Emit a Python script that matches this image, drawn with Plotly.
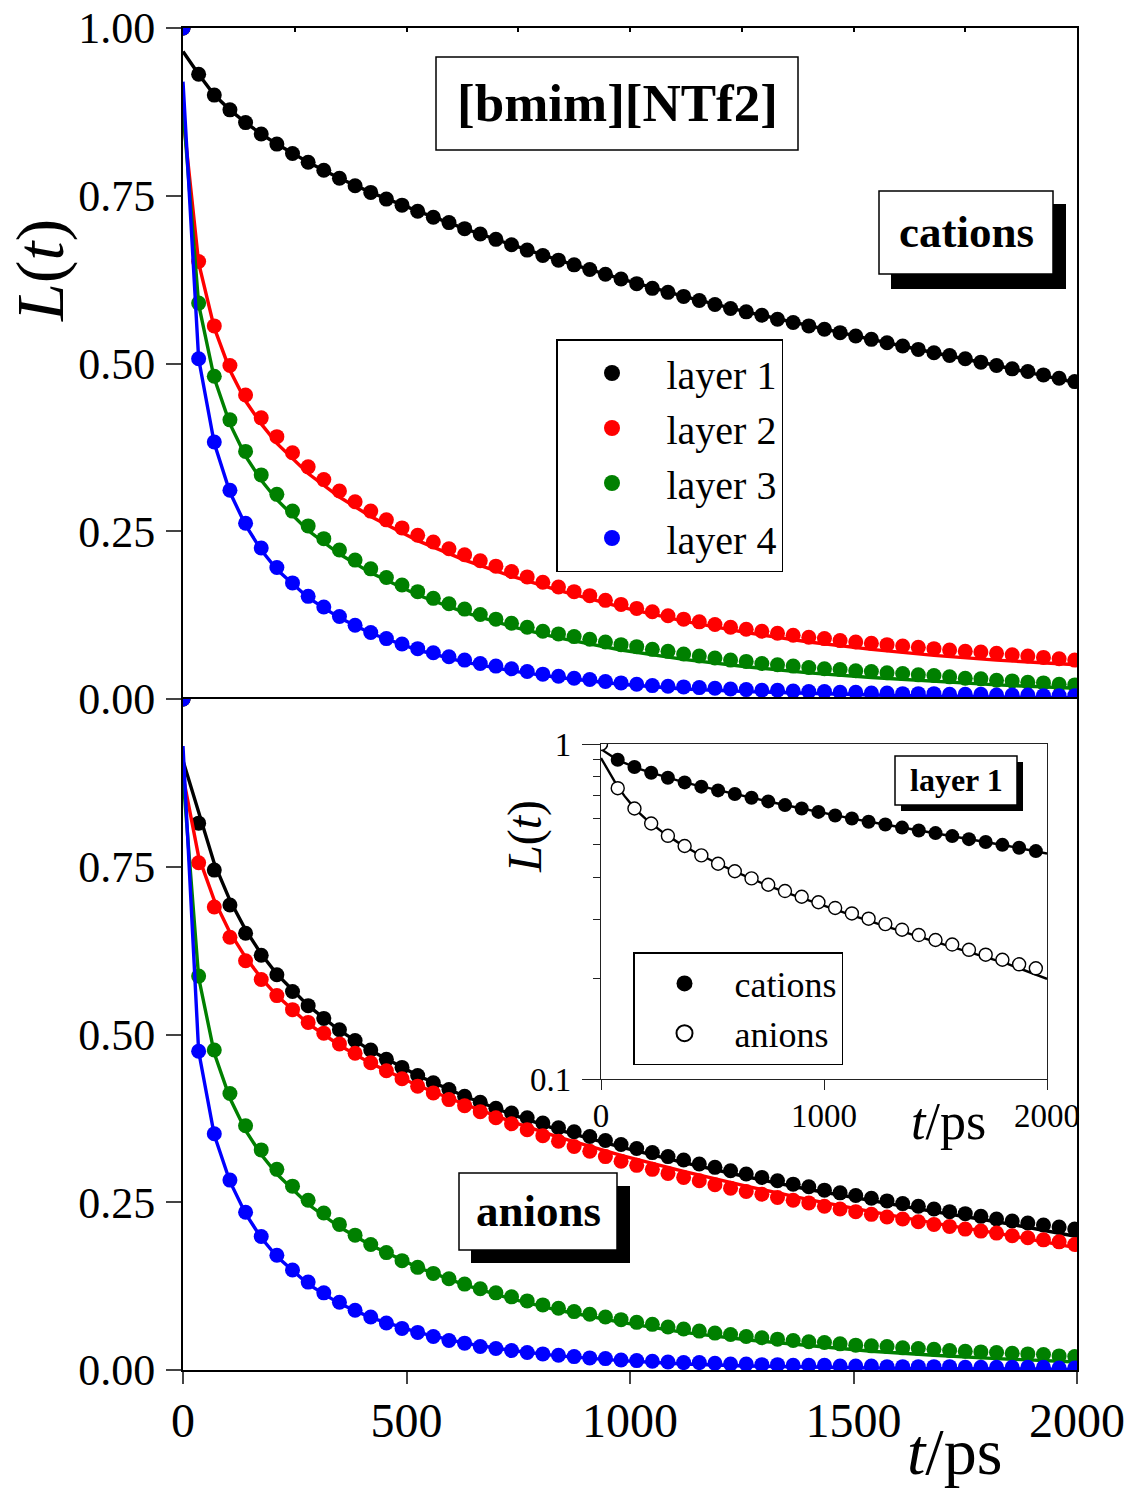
import plotly.graph_objects as go

# ---------------- data ----------------
t_main = [0, 35, 70, 105, 140, 175, 210, 245, 280, 315, 350, 385, 420, 455, 490, 525, 560, 595, 630, 665,
          700, 735, 770, 805, 840, 875, 910, 945, 980, 1015, 1050, 1085, 1120, 1155, 1190, 1225, 1260, 1295,
          1330, 1365, 1400, 1435, 1470, 1505, 1540, 1575, 1610, 1645, 1680, 1715, 1750, 1785, 1820, 1855,
          1890, 1925, 1960, 1995]

# cations, layers 1-4 (top panel)
cat_l1 = [1.000, 0.931, 0.900, 0.878, 0.859, 0.842, 0.827, 0.813, 0.800, 0.788, 0.776, 0.765, 0.755, 0.745,
          0.736, 0.727, 0.718, 0.710, 0.701, 0.693, 0.685, 0.677, 0.669, 0.661, 0.654, 0.647, 0.640, 0.633,
          0.626, 0.619, 0.612, 0.606, 0.600, 0.594, 0.588, 0.582, 0.577, 0.572, 0.566, 0.561, 0.556, 0.551,
          0.546, 0.541, 0.536, 0.531, 0.526, 0.521, 0.516, 0.512, 0.507, 0.502, 0.497, 0.492, 0.488, 0.483,
          0.478, 0.473]
cat_l2 = [1.000, 0.652, 0.556, 0.497, 0.453, 0.419, 0.391, 0.367, 0.346, 0.327, 0.310, 0.294, 0.280, 0.267,
          0.255, 0.244, 0.234, 0.224, 0.215, 0.206, 0.198, 0.190, 0.182, 0.174, 0.167, 0.160, 0.154, 0.147,
          0.141, 0.135, 0.130, 0.124, 0.119, 0.115, 0.111, 0.107, 0.104, 0.101, 0.098, 0.095, 0.092, 0.090,
          0.087, 0.085, 0.083, 0.081, 0.079, 0.077, 0.075, 0.073, 0.071, 0.070, 0.068, 0.066, 0.064, 0.062,
          0.060, 0.058]
cat_l3 = [1.000, 0.590, 0.481, 0.416, 0.369, 0.334, 0.305, 0.280, 0.258, 0.239, 0.222, 0.207, 0.194, 0.181,
          0.170, 0.160, 0.150, 0.142, 0.134, 0.126, 0.119, 0.113, 0.107, 0.101, 0.097, 0.093, 0.089, 0.085,
          0.081, 0.078, 0.074, 0.071, 0.067, 0.064, 0.061, 0.058, 0.056, 0.053, 0.051, 0.049, 0.047, 0.045,
          0.044, 0.042, 0.041, 0.039, 0.038, 0.036, 0.035, 0.033, 0.031, 0.030, 0.028, 0.027, 0.025, 0.024,
          0.022, 0.021]
cat_l4 = [1.000, 0.507, 0.383, 0.311, 0.262, 0.225, 0.196, 0.173, 0.153, 0.137, 0.123, 0.110, 0.099, 0.090,
          0.082, 0.075, 0.069, 0.063, 0.058, 0.053, 0.049, 0.045, 0.041, 0.037, 0.034, 0.031, 0.029, 0.026,
          0.024, 0.022, 0.020, 0.019, 0.018, 0.017, 0.016, 0.015, 0.014, 0.013, 0.013, 0.012, 0.011, 0.011,
          0.010, 0.010, 0.009, 0.009, 0.008, 0.008, 0.008, 0.007, 0.007, 0.007, 0.006, 0.006, 0.006, 0.005,
          0.005, 0.005]

# anions, layers 1-4 (bottom panel)
an_l1 = [1.000, 0.815, 0.745, 0.693, 0.651, 0.618, 0.589, 0.564, 0.543, 0.524, 0.507, 0.491, 0.477, 0.463,
         0.451, 0.439, 0.428, 0.418, 0.408, 0.399, 0.390, 0.383, 0.376, 0.368, 0.361, 0.355, 0.348, 0.342,
         0.336, 0.330, 0.324, 0.318, 0.313, 0.307, 0.302, 0.297, 0.292, 0.287, 0.282, 0.277, 0.273, 0.268,
         0.264, 0.260, 0.256, 0.252, 0.248, 0.244, 0.240, 0.236, 0.233, 0.229, 0.225, 0.222, 0.219, 0.216,
         0.213, 0.210]
an_l2 = [1.000, 0.756, 0.690, 0.645, 0.610, 0.582, 0.558, 0.537, 0.518, 0.502, 0.486, 0.472, 0.458, 0.446,
         0.434, 0.423, 0.413, 0.403, 0.394, 0.385, 0.376, 0.367, 0.358, 0.349, 0.341, 0.333, 0.326, 0.318,
         0.311, 0.305, 0.299, 0.293, 0.287, 0.282, 0.276, 0.271, 0.266, 0.262, 0.257, 0.253, 0.249, 0.244,
         0.240, 0.236, 0.232, 0.228, 0.225, 0.221, 0.217, 0.214, 0.210, 0.207, 0.204, 0.200, 0.197, 0.194,
         0.191, 0.187]
an_l3 = [1.000, 0.587, 0.477, 0.412, 0.364, 0.328, 0.299, 0.274, 0.253, 0.234, 0.217, 0.201, 0.187, 0.175,
         0.163, 0.153, 0.144, 0.136, 0.128, 0.121, 0.115, 0.109, 0.103, 0.097, 0.092, 0.087, 0.083, 0.079,
         0.075, 0.071, 0.068, 0.064, 0.061, 0.058, 0.055, 0.053, 0.050, 0.048, 0.046, 0.044, 0.042, 0.041,
         0.039, 0.037, 0.036, 0.035, 0.033, 0.032, 0.031, 0.029, 0.028, 0.027, 0.026, 0.025, 0.024, 0.023,
         0.021, 0.020]
an_l4 = [1.000, 0.475, 0.352, 0.283, 0.235, 0.199, 0.171, 0.149, 0.131, 0.115, 0.101, 0.089, 0.079, 0.070,
         0.062, 0.056, 0.050, 0.044, 0.040, 0.035, 0.032, 0.029, 0.026, 0.024, 0.022, 0.020, 0.018, 0.017,
         0.015, 0.014, 0.013, 0.012, 0.011, 0.011, 0.010, 0.009, 0.009, 0.008, 0.008, 0.007, 0.007, 0.007,
         0.006, 0.006, 0.006, 0.005, 0.005, 0.005, 0.005, 0.005, 0.004, 0.004, 0.004, 0.004, 0.004, 0.004,
         0.003, 0.003]

# fitted curves
t_fit = [0, 35, 70, 105, 140, 175, 210, 280, 350, 420, 525, 630, 735, 840, 980, 1120, 1260, 1400, 1540,
         1680, 1820, 2000]
fit_cat_l1 = [0.965, 0.931, 0.900, 0.878, 0.859, 0.842, 0.827, 0.800, 0.776, 0.755, 0.727, 0.701, 0.677,
              0.654, 0.626, 0.600, 0.577, 0.556, 0.536, 0.516, 0.497, 0.471]
fit_cat_l2 = [0.870, 0.650, 0.553, 0.490, 0.444, 0.410, 0.381, 0.336, 0.301, 0.272, 0.236, 0.207, 0.183,
              0.162, 0.137, 0.116, 0.099, 0.085, 0.074, 0.065, 0.058, 0.051]
fit_cat_l3 = [0.880, 0.588, 0.478, 0.410, 0.362, 0.326, 0.297, 0.251, 0.216, 0.188, 0.155, 0.129, 0.108,
              0.091, 0.073, 0.059, 0.048, 0.039, 0.032, 0.026, 0.021, 0.016]
fit_cat_l4 = [0.920, 0.507, 0.381, 0.308, 0.259, 0.222, 0.193, 0.151, 0.121, 0.098, 0.073, 0.055, 0.042,
              0.032, 0.022, 0.015, 0.011, 0.008, 0.006, 0.004, 0.003, 0.002]
fit_an_l1 = [0.908, 0.830, 0.755, 0.700, 0.656, 0.620, 0.590, 0.543, 0.506, 0.476, 0.439, 0.408, 0.381,
             0.358, 0.332, 0.309, 0.288, 0.269, 0.252, 0.236, 0.221, 0.199]
fit_an_l2 = [0.885, 0.765, 0.700, 0.652, 0.615, 0.584, 0.558, 0.516, 0.484, 0.457, 0.424, 0.396, 0.370,
             0.347, 0.320, 0.296, 0.274, 0.254, 0.236, 0.219, 0.204, 0.182]
fit_an_l3 = [0.885, 0.585, 0.472, 0.405, 0.357, 0.321, 0.292, 0.247, 0.213, 0.186, 0.153, 0.127, 0.106,
             0.089, 0.071, 0.056, 0.045, 0.036, 0.028, 0.022, 0.017, 0.012]
fit_an_l4 = [0.930, 0.475, 0.350, 0.281, 0.233, 0.197, 0.169, 0.128, 0.099, 0.078, 0.056, 0.040, 0.029,
             0.021, 0.014, 0.009, 0.006, 0.004, 0.003, 0.002, 0.0015, 0.001]

# inset (layer 1, log scale)
t_inset = [0, 75, 150, 225, 300, 375, 450, 525, 600, 675, 750, 825, 900, 975, 1050, 1125, 1200, 1275, 1350,
           1425, 1500, 1575, 1650, 1725, 1800, 1875, 1950]
inset_cat = [1.000, 0.897, 0.854, 0.821, 0.793, 0.768, 0.746, 0.727, 0.709, 0.691, 0.674, 0.657, 0.642,
             0.627, 0.612, 0.599, 0.586, 0.575, 0.563, 0.552, 0.542, 0.531, 0.520, 0.510, 0.500, 0.490, 0.479]
inset_an = [1.000, 0.738, 0.642, 0.579, 0.532, 0.496, 0.465, 0.439, 0.417, 0.397, 0.380, 0.364, 0.350,
            0.337, 0.324, 0.312, 0.301, 0.290, 0.279, 0.269, 0.260, 0.252, 0.243, 0.235, 0.227, 0.220, 0.214]

layer_names = ["layer 1", "layer 2", "layer 3", "layer 4"]
colors = ["#000000", "#ff0000", "#008000", "#0000ff"]
y_ticks_top = [0, 0.25, 0.5, 0.75, 1.0]
y_ticks_bottom = [0, 0.25, 0.5, 0.75]
x_ticks = [0, 500, 1000, 1500, 2000]
x_top_minor = [250, 500, 750, 1000, 1250, 1500, 1750]
inset_x_minor = [500, 1000, 1500]
inset_y_minor = [0.2, 0.3, 0.4, 0.5, 0.6, 0.7, 0.8, 0.9]

# ---------------- figure ----------------
W, H = 1132, 1488
FONT = "Liberation Serif, Times New Roman, serif"


def px(x):
    return x / W


def py(y):
    return 1 - y / H


fig = go.Figure()

cat_data = [cat_l1, cat_l2, cat_l3, cat_l4]
cat_fit = [fit_cat_l1, fit_cat_l2, fit_cat_l3, fit_cat_l4]
an_data = [an_l1, an_l2, an_l3, an_l4]
an_fit = [fit_an_l1, fit_an_l2, fit_an_l3, fit_an_l4]

for i in range(4):
    fig.add_trace(go.Scatter(x=t_fit, y=cat_fit[i], mode="lines", showlegend=False,
                             line=dict(color=colors[i], width=3.4), xaxis="x", yaxis="y"))
    fig.add_trace(go.Scatter(x=t_main, y=cat_data[i], mode="markers", showlegend=False,
                             marker=dict(color=colors[i], size=15), xaxis="x", yaxis="y"))
for i in range(4):
    fig.add_trace(go.Scatter(x=t_fit, y=an_fit[i], mode="lines", showlegend=False,
                             line=dict(color=colors[i], width=3.4), xaxis="x2", yaxis="y2"))
    fig.add_trace(go.Scatter(x=t_main, y=an_data[i], mode="markers", showlegend=False,
                             marker=dict(color=colors[i], size=15), xaxis="x2", yaxis="y2"))
# legend entries for the main legend
for i in range(4):
    fig.add_trace(go.Scatter(x=[None], y=[None], mode="markers", name=layer_names[i],
                             marker=dict(color=colors[i], size=17), xaxis="x", yaxis="y",
                             legend="legend"))

# inset
fig.add_trace(go.Scatter(x=t_fit, y=fit_cat_l1, mode="lines", showlegend=False,
                         line=dict(color="black", width=2.4), xaxis="x3", yaxis="y3"))
fig.add_trace(go.Scatter(x=t_fit, y=fit_an_l1, mode="lines", showlegend=False,
                         line=dict(color="black", width=2.4), xaxis="x3", yaxis="y3"))
fig.add_trace(go.Scatter(x=t_inset, y=inset_cat, mode="markers", showlegend=False,
                         marker=dict(color="black", size=14), xaxis="x3", yaxis="y3"))
fig.add_trace(go.Scatter(x=t_inset, y=inset_an, mode="markers", showlegend=False,
                         marker=dict(color="white", size=13, line=dict(color="black", width=1.4)),
                         xaxis="x3", yaxis="y3"))
fig.add_trace(go.Scatter(x=[None], y=[None], mode="markers", name="cations",
                         marker=dict(color="black", size=18), xaxis="x3", yaxis="y3", legend="legend2"))
fig.add_trace(go.Scatter(x=[None], y=[None], mode="markers", name="anions",
                         marker=dict(color="white", size=18, line=dict(color="black", width=2)),
                         xaxis="x3", yaxis="y3", legend="legend2"))

axis_common = dict(showline=True, mirror=True, linecolor="black", linewidth=2, showgrid=False,
                   zeroline=False, automargin=False)
tickfont_y = dict(family=FONT, size=44, color="black")
tickfont_x = dict(family=FONT, size=48, color="black")
xdom = [px(183), px(1077)]

fig.update_layout(
    width=W, height=H,
    margin=dict(l=0, r=0, t=0, b=0, pad=0),
    paper_bgcolor="white", plot_bgcolor="white",
    font=dict(family=FONT, color="black"),
    showlegend=True,
    xaxis=dict(domain=xdom, anchor="y", range=[0, 2000], showticklabels=False, side="top",
               tickvals=x_top_minor, ticks="inside", ticklen=4, tickwidth=1.5, tickcolor="black",
               showline=True, mirror=False, linecolor="black", linewidth=2, showgrid=False,
               zeroline=False, automargin=False),
    yaxis=dict(domain=[py(699), py(28)], anchor="x", range=[0, 1], tickvals=y_ticks_top,
               ticktext=["%.2f" % v for v in y_ticks_top], ticks="outside", ticklen=15, tickwidth=2,
               tickfont=tickfont_y, ticklabelstandoff=2, **axis_common),
    xaxis2=dict(domain=xdom, anchor="y2", range=[0, 2000], tickvals=x_ticks,
                ticktext=[str(v) for v in x_ticks], ticks="outside", ticklen=12, tickwidth=2,
                tickfont=tickfont_x, ticklabelstandoff=-5, **axis_common),
    yaxis2=dict(domain=[py(1370), py(699)], anchor="x2", range=[0, 1], tickvals=y_ticks_bottom,
                ticktext=["%.2f" % v for v in y_ticks_bottom], ticks="outside", ticklen=15, tickwidth=2,
                tickfont=tickfont_y, ticklabelstandoff=2, **axis_common),
    xaxis3=dict(domain=[px(601), px(1047)], anchor="y3", range=[0, 2000], tickvals=[0, 1000, 2000],
                ticktext=["0", "1000", "2000"], ticks="outside", ticklen=10, tickwidth=1.2,
                tickcolor="#222", showline=True, mirror=True, linecolor="#222", linewidth=1.2,
                showgrid=False, zeroline=False, automargin=False,
                tickfont=dict(family=FONT, size=33, color="black"), ticklabelstandoff=-3),
    yaxis3=dict(domain=[py(1079), py(744)], anchor="x3", type="log", range=[-1, 0],
                tickvals=[0.1, 1], ticktext=["0.1", "1"], ticks="outside", ticklen=18, tickwidth=1.2,
                tickcolor="#222", showline=True, mirror=True, linecolor="#222", linewidth=1.2,
                showgrid=False, zeroline=False, automargin=False,
                minor=dict(tickvals=inset_y_minor, ticks="outside", ticklen=7, tickcolor="#222"),
                tickfont=dict(family=FONT, size=33, color="black"), ticklabelstandoff=4),
    xaxis4=dict(overlaying="x3", anchor="y3", side="top", range=[0, 2000], tickvals=inset_x_minor,
                showticklabels=False, ticks="inside", ticklen=6, tickwidth=1.2, tickcolor="#222",
                showline=False, showgrid=False, zeroline=False, automargin=False),
    yaxis4=dict(overlaying="y3", anchor="x3", side="right", type="log", range=[-1, 0],
                tickvals=inset_y_minor, showticklabels=False, ticks="inside", ticklen=6,
                tickwidth=1.2, tickcolor="#222", showline=False, showgrid=False, zeroline=False,
                automargin=False),
    legend=dict(x=px(556), y=py(339), xanchor="left", yanchor="top", bgcolor="white",
                bordercolor="black", borderwidth=1.5, itemwidth=99,
                font=dict(family=FONT, size=40, color="black")),
    legend2=dict(x=px(633), y=py(952), xanchor="left", yanchor="top", bgcolor="white",
                 bordercolor="black", borderwidth=1.5, itemwidth=90,
                 font=dict(family=FONT, size=36, color="black")),
)

shapes = []


def box(x0, y0, x1, y1, fill, lw):
    shapes.append(dict(type="rect", xref="paper", yref="paper", x0=px(x0), x1=px(x1), y0=py(y1),
                       y1=py(y0), fillcolor=fill, line=dict(color="black", width=lw), layer="above"))


box(436, 57, 798, 150, "white", 1.5)
box(891, 204, 1066, 289, "black", 0)
box(879, 191, 1053, 274, "white", 1.5)
box(471, 1186, 630, 1263, "black", 0)
box(459, 1173, 617, 1250, "white", 1.5)
box(901, 762, 1023, 811, "black", 0)
box(895, 756, 1017, 805, "white", 1.5)
fig.update_layout(shapes=shapes)

ann = []


def text(x, y, s, size, angle=0):
    ann.append(dict(x=px(x), y=py(y), xref="paper", yref="paper", text=s, showarrow=False,
                    xanchor="center", yanchor="middle", textangle=angle,
                    font=dict(family=FONT, size=size, color="black")))


text(40, 271, "<i>L</i>(<i>t</i>)", 68, -90)
text(954, 1451, "<i>t</i>/ps", 66)
text(525, 837, "<i>L</i>(<i>t</i>)", 48, -90)
text(948, 1121, "<i>t</i>/ps", 52)
text(617, 103, "<b>[bmim][NTf2]</b>", 53)
text(966, 232, "<b>cations</b>", 45)
text(538, 1211, "<b>anions</b>", 45)
text(956, 780, "<b>layer 1</b>", 32)
fig.update_layout(annotations=ann)

fig.write_html("out.html", config={"displayModeBar": False},
               post_script="document.body.style.margin='0px';document.body.style.padding='0px';")
